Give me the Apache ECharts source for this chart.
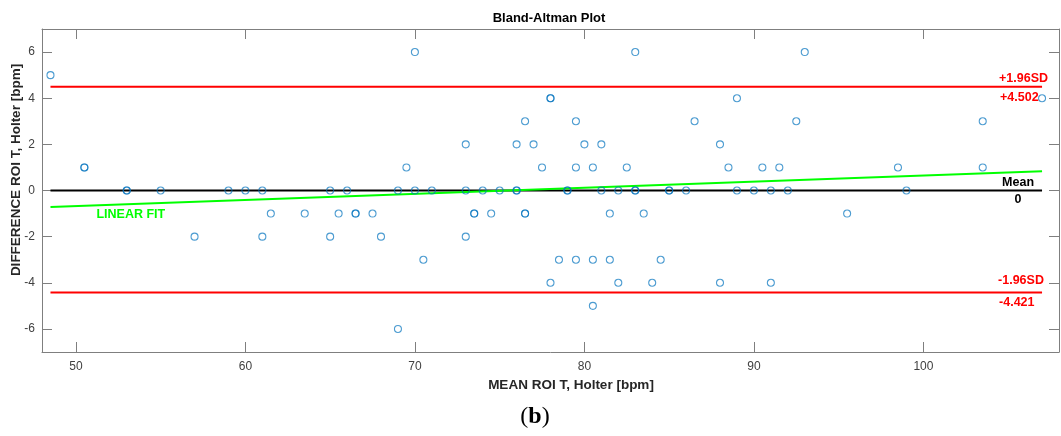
<!DOCTYPE html>
<html>
<head>
<meta charset="utf-8">
<script src="https://cdn.jsdelivr.net/npm/echarts@6/dist/echarts.min.js"></script>
<style>
  html, body { margin: 0; padding: 0; background: #fff; }
  #main { width: 1061px; height: 436px; }
</style>
</head>
<body>
<div id="main"></div>
<script>
// mean of the two methods (x) and their difference (y)
const meanVals = [48.5, 50.5, 50.5, 53, 53, 55, 57, 59, 60, 61, 61, 61.5, 63.5, 65, 65, 65.5, 66, 66.5, 66.5, 67.5,
  68, 69, 69, 69.5, 70, 70, 70.5, 71, 73, 73, 73, 73.5, 73.5, 74, 74.5, 75, 76, 76, 76, 76.5, 76.5, 76.5,
  77, 77.5, 78, 78, 78, 78.5, 79, 79, 79.5, 79.5, 79.5, 80, 80.5, 80.5, 80.5, 81, 81, 81.5, 81.5, 82, 82,
  82.5, 83, 83, 83, 83.5, 84, 84.5, 85, 85, 86, 86.5, 88, 88, 88.5, 89, 89, 90, 90.5, 91, 91, 91.5, 92,
  92.5, 93, 95.5, 98.5, 99, 103.5, 103.5, 107];
const diffVals = [5, 1, 1, 0, 0, 0, -2, 0, 0, 0, -2, -1, -1, 0, -2, -1, 0, -1, -1, -1,
  -2, 0, -6, 1, 6, 0, -3, 0, 2, 0, -2, -1, -1, 0, -1, 0, 2, 0, 0, 3, -1, -1,
  2, 1, 4, 4, -4, -3, 0, 0, 3, 1, -3, 2, 1, -3, -5, 2, 0, -1, -3, 0, -4,
  1, 6, 0, 0, -1, -4, -3, 0, 0, 0, 3, 2, -4, 1, 4, 0, 0, 1, 0, -4, 1, 0,
  3, 6, -1, 1, 0, 3, 1, 4];

const meanDiff = 0;
const upperLoA = 4.502;
const lowerLoA = -4.421;
const lineX = [48.5, 107];
const fitY = [-0.72, 0.83];

const xTicks = [50, 60, 70, 80, 90, 100];
const yTicks = [-6, -4, -2, 0, 2, 4, 6];

const chart = echarts.init(document.getElementById('main'));
const axisGray = '#7f7f7f';
const labelFont = 'Liberation Sans, Arial, sans-serif';

function hLine(y, color) {
  return {
    type: 'line',
    data: [[lineX[0], y], [lineX[1], y]],
    symbol: 'none',
    silent: true,
    z: 2,
    lineStyle: { color: color, width: 2 }
  };
}

function boxAxis(kind, pos, min, max, ticks, showLabels) {
  return {
    type: 'value',
    position: pos,
    min: min,
    max: max,
    splitLine: { show: false },
    axisLine: { show: true, onZero: false, lineStyle: { color: axisGray, width: 1 } },
    axisTick: { show: true, inside: true, length: 10, customValues: ticks, lineStyle: { color: axisGray } },
    axisLabel: {
      show: showLabels,
      customValues: ticks,
      color: '#404040',
      fontFamily: labelFont,
      fontSize: 12,
      margin: kind === 'x' ? 9 : 7
    }
  };
}

const option = {
  animation: false,
  backgroundColor: '#fff',
  grid: { left: 42, right: 2, top: 29, bottom: 84, containLabel: false },
  xAxis: [
    boxAxis('x', 'bottom', 48, 108, xTicks, true),
    boxAxis('x', 'top', 48, 108, xTicks, false)
  ],
  yAxis: [
    boxAxis('y', 'left', -7, 7, yTicks, true),
    boxAxis('y', 'right', -7, 7, yTicks, false)
  ],
  series: [
    hLine(upperLoA, '#ff0000'),
    hLine(lowerLoA, '#ff0000'),
    hLine(meanDiff, '#000000'),
    {
      type: 'line',
      data: [[lineX[0], fitY[0]], [lineX[1], fitY[1]]],
      symbol: 'none',
      silent: true,
      z: 2,
      lineStyle: { color: '#00ff00', width: 2 }
    },
    {
      type: 'scatter',
      data: meanVals.map((m, i) => [m, diffVals[i]]),
      symbol: 'circle',
      symbolSize: 7,
      z: 3,
      itemStyle: { color: 'rgba(0,0,0,0)', borderColor: '#0072BD', borderWidth: 1.1, opacity: 0.7 }
    }
  ]
};

chart.setOption(option);

// annotation texts anchored to the line ends
const endUp = chart.convertToPixel({ xAxisIndex: 0, yAxisIndex: 0 }, [lineX[1], upperLoA]);
const endLo = chart.convertToPixel({ xAxisIndex: 0, yAxisIndex: 0 }, [lineX[1], lowerLoA]);
const endMean = chart.convertToPixel({ xAxisIndex: 0, yAxisIndex: 0 }, [lineX[1], meanDiff]);
const startFit = chart.convertToPixel({ xAxisIndex: 0, yAxisIndex: 0 }, [lineX[0], fitY[0]]);

function txt(text, x, y, fill, font, align) {
  return {
    type: 'text',
    x: x,
    y: y,
    silent: true,
    z: 10,
    style: { text: text, fill: fill, font: font, textAlign: align || 'left', textVerticalAlign: 'middle' }
  };
}

const bold = 'bold 12.5px ' + labelFont;

chart.setOption({
  graphic: [
    txt('Bland-Altman Plot', 549, 18, '#000', 'bold 13px ' + labelFont, 'center'),
    txt('MEAN ROI T, Holter [bpm]', 571, 385, '#262626', 'bold 13.5px ' + labelFont, 'center'),
    {
      type: 'text',
      x: 16,
      y: 170,
      rotation: Math.PI / 2,
      silent: true,
      style: {
        text: 'DIFFERENCE ROI T, Holter [bpm]', fill: '#262626',
        font: 'bold 13.5px ' + labelFont, textAlign: 'center', textVerticalAlign: 'middle'
      }
    },
    txt('+1.96SD', endUp[0] - 43, endUp[1] - 8, '#ff0000', bold),
    txt('+4.502', endUp[0] - 42, endUp[1] + 11, '#ff0000', bold),
    txt('-1.96SD', endLo[0] - 44, endLo[1] - 11.5, '#ff0000', bold),
    txt('-4.421', endLo[0] - 43, endLo[1] + 10.5, '#ff0000', bold),
    txt('Mean', endMean[0] - 24, endMean[1] - 8, '#000', bold, 'center'),
    txt('0', endMean[0] - 24, endMean[1] + 9.5, '#000', bold, 'center'),
    txt('LINEAR FIT', startFit[0] + 46, startFit[1] + 7, '#00ff00', bold),
    {
      type: 'text',
      x: 535,
      y: 417,
      silent: true,
      style: {
        text: '{p|(}{b|b}{p|)}',
        textAlign: 'center',
        textVerticalAlign: 'middle',
        rich: {
          p: { fontFamily: 'Liberation Serif, serif', fontSize: 24, color: '#000' },
          b: { fontFamily: 'Liberation Serif, serif', fontSize: 24, fontWeight: 'bold', color: '#000' }
        }
      }
    }
  ]
});
</script>
</body>
</html>
